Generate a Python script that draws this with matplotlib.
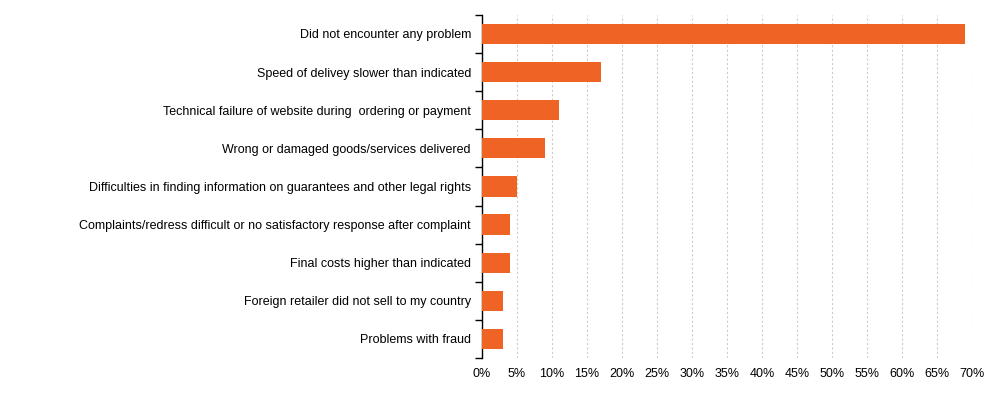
import numpy as np
import matplotlib.pyplot as plt
from matplotlib.ticker import FixedLocator

plt.rcParams['font.family'] = ['Liberation Sans', 'DejaVu Sans']

categories = [
    "Did not encounter any problem",
    "Speed of delivey slower than indicated",
    "Technical failure of website during  ordering or payment",
    "Wrong or damaged goods/services delivered",
    "Difficulties in finding information on guarantees and other legal rights",
    "Complaints/redress difficult or no satisfactory response after complaint",
    "Final costs higher than indicated",
    "Foreign retailer did not sell to my country",
    "Problems with fraud",
]
values = [69, 17, 11, 9, 5, 4, 4, 3, 3]
xticks = list(range(0, 75, 5))

fig = plt.figure(figsize=(10, 3.93), dpi=100)
ax = fig.add_axes([0.482, 0.089, 0.49, 0.873])

n = len(categories)
pos = np.arange(n)
ax.barh(pos, values, height=0.53, color="#EF6424", zorder=3)

ax.set_ylim(n - 0.5, -0.5)
ax.set_xlim(0, 70)

# category labels at centres, tick marks at boundaries
ax.yaxis.set_major_locator(FixedLocator(np.arange(-0.5, n, 1)))
ax.yaxis.set_minor_locator(FixedLocator(pos))
ax.set_yticklabels([], minor=False)
ax.set_yticklabels(categories, minor=True, fontsize=9)
ax.tick_params(axis="y", which="major", length=5, width=1, color="black")
ax.tick_params(axis="y", which="minor", length=0, pad=8)

ax.set_xticks(xticks)
ax.set_xticklabels([f"{t}%" for t in xticks], fontsize=9)
ax.tick_params(axis="x", length=0, pad=7)
ax.xaxis.grid(True, linestyle=(0, (2, 2)), color="#cccccc", linewidth=0.8, zorder=0)

for s in ["top", "right", "bottom"]:
    ax.spines[s].set_visible(False)
ax.spines["left"].set_color("black")
ax.spines["left"].set_linewidth(1)

fig.savefig("out.png", dpi=100)
